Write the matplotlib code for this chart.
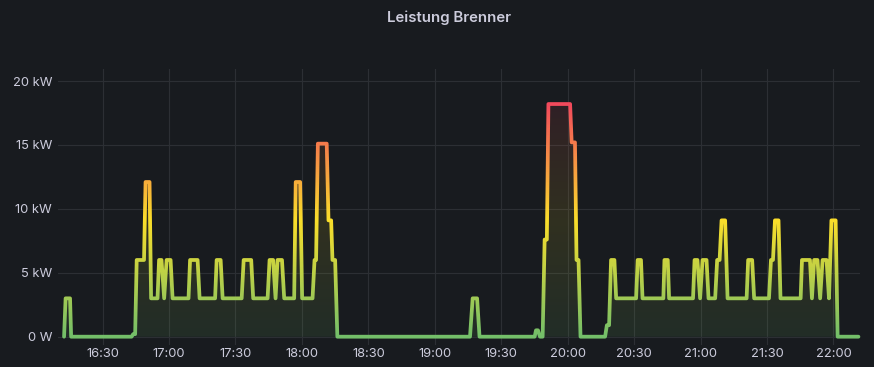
import numpy as np
import matplotlib
matplotlib.use("Agg")
import matplotlib.pyplot as plt
from matplotlib.colors import LinearSegmentedColormap
from matplotlib.patches import Rectangle, Polygon

plt.rcParams['font.family'] = ['Inter', 'DejaVu Sans']

title = "Leistung Brenner"

# time in minutes after 16:00 and burner power in kW
minutes = [
    12.6, 13.3, 15.3, 15.8,
    43.1, 43.8, 44.7, 45.4, 48.7, 49.4, 51.2, 51.9,
    54.8, 55.5, 56.6, 57.8, 58.9, 60.7, 61.6,
    68.8, 69.5, 72.9, 73.8,
    80.8, 81.5, 83.3, 84.2,
    92.8, 93.7, 97.1, 98.0,
    104.5, 105.4, 107.0, 108.1, 109.0, 111.0, 112.0,
    116.5, 117.2, 119.2, 120.1,
    124.8, 125.7, 126.4, 127.2, 131.2, 132.0, 133.2, 133.8, 135.0, 136.0,
    195.9, 197.1, 199.1, 200.2,
    225.1, 225.7, 226.6, 227.5, 228.7, 229.6, 230.6, 231.3, 241.1, 241.8,
    243.3, 244.0, 244.9, 245.8,
    256.9, 257.7, 258.7, 259.6, 261.1, 261.9,
    270.9, 271.6, 273.1, 273.8,
    283.2, 283.7, 285.2, 285.8,
    296.6, 297.3, 298.6, 299.8, 300.9, 302.7, 303.6,
    306.6, 307.5, 308.6, 309.5, 311.1, 312.2,
    320.8, 321.5, 323.3, 324.2,
    330.9, 331.8, 332.7, 333.6, 335.2, 336.1,
    345.2, 345.8, 349.4, 350.3, 351.3, 352.8, 354.0, 355.1, 356.9, 358.0,
    359.1, 361.0, 361.9, 371.3,
]
power_kw = [
    0, 3, 3, 0,
    0, 0.2, 0.2, 6, 6, 12.1, 12.1, 3,
    3, 6, 6, 3, 6, 6, 3,
    3, 6, 6, 3,
    3, 6, 6, 3,
    3, 6, 6, 3,
    3, 6, 6, 3, 6, 6, 3,
    3, 12.1, 12.1, 3,
    3, 6, 6, 15.1, 15.1, 9.1, 9.1, 6, 6, 0,
    0, 3, 3, 0,
    0, 0.5, 0.5, 0, 0, 7.6, 7.6, 18.2, 18.2, 15.2,
    15.2, 6, 6, 0,
    0, 0.9, 0.9, 6, 6, 3,
    3, 6, 6, 3,
    3, 6, 6, 3,
    3, 6, 6, 3, 6, 6, 3,
    3, 6, 6, 9.1, 9.1, 3,
    3, 6, 6, 3,
    3, 6, 6, 9.1, 9.1, 3,
    3, 6, 6, 3, 6, 6, 3, 6, 6, 3,
    9.1, 9.1, 0, 0,
]

x_tick_minutes = [30, 60, 90, 120, 150, 180, 210, 240, 270, 300, 330, 360]
x_tick_labels = ["16:30", "17:00", "17:30", "18:00", "18:30", "19:00",
                 "19:30", "20:00", "20:30", "21:00", "21:30", "22:00"]
y_tick_values = [0, 5, 10, 15, 20]
y_tick_labels = ["0 W", "5 kW", "10 kW", "15 kW", "20 kW"]

BG = "#181b1f"
TXT = "#ccccdc"
GRID = "#2c2f34"

W, H = 874, 367
fig = plt.figure(figsize=(W / 100, H / 100), dpi=100, facecolor=BG)
ax_l, ax_r, ax_t, ax_b = 58.3, 860.0, 69.0, 345.0
ax = fig.add_axes([ax_l / W, 1 - ax_b / H, (ax_r - ax_l) / W, (ax_b - ax_t) / H])
ax.set_facecolor(BG)

XMIN, XMAX = 10.0, 372.0
YMIN, YMAX = -0.65, 20.94

cmap = LinearSegmentedColormap.from_list("gyr", ["#73BF69", "#FADE2A", "#F2495C"])
vmax = max(power_kw)

# gradient fill under the curve
verts = [(minutes[0], 0)] + list(zip(minutes, power_kw)) + [(minutes[-1], 0)]
poly = Polygon(verts, closed=True, facecolor='none', edgecolor='none')
ax.add_patch(poly)
grad = np.linspace(0, 1, 256).reshape(-1, 1)
im = ax.imshow(grad, cmap=cmap, aspect='auto', extent=[XMIN, XMAX, 0, vmax],
               origin='lower', alpha=0.11, zorder=1, interpolation='bilinear')
im.set_clip_path(poly)

# line coloured by value (drawn in horizontal bands)
nb = 160
edges = np.linspace(-1.0, vmax + 1.0, nb + 1)
for i in range(nb):
    y0, y1 = edges[i], edges[i + 1]
    c = cmap(float(np.clip(((y0 + y1) / 2) / vmax, 0, 1)))
    ln, = ax.plot(minutes, power_kw, color=c, lw=2.7, solid_joinstyle='round',
                  solid_capstyle='round', zorder=3)
    rect = Rectangle((XMIN - 10, y0), XMAX - XMIN + 20, y1 - y0, transform=ax.transData)
    ln.set_clip_path(rect)

ax.set_xlim(XMIN, XMAX)
ax.set_ylim(YMIN, YMAX)

ax.set_xticks(x_tick_minutes)
ax.set_xticklabels(x_tick_labels)
ax.set_yticks(y_tick_values)
ax.set_yticklabels(y_tick_labels)
ax.tick_params(axis='both', length=0, colors=TXT, labelsize=9.3)
ax.tick_params(axis='y', pad=4.5)
ax.tick_params(axis='x', pad=2.5)
ax.grid(True, color=GRID, lw=0.8, zorder=0)
ax.set_axisbelow(True)
for s in ax.spines.values():
    s.set_visible(False)

fig.text(449 / W, 1 - 18 / H, title, ha='center', va='center', color=TXT,
         fontsize=10.8, fontweight='semibold')

fig.savefig("out.png", dpi=100, facecolor=BG)
